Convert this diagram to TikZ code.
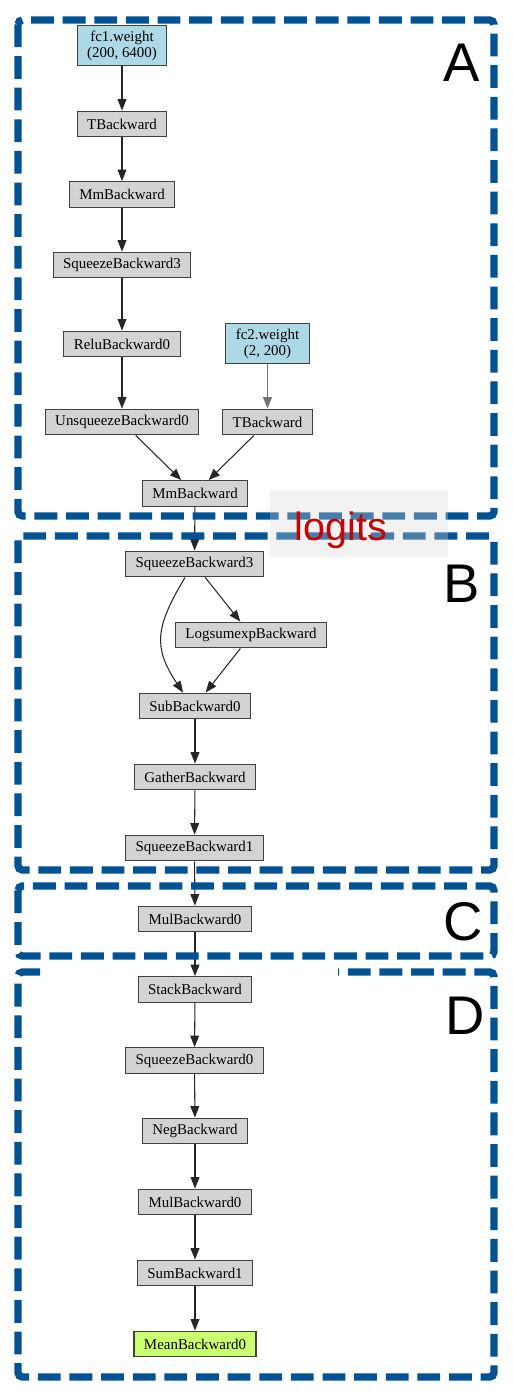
\documentclass[tikz,border=0pt]{standalone}
\usepackage{fontspec}
\setmainfont{Liberation Serif}
\newfontfamily\labelfont{Liberation Sans}
\usetikzlibrary{arrows.meta}
\pgfdeclarelayer{background}
\pgfdeclarelayer{foreground}
\pgfsetlayers{background,main,foreground}
\definecolor{boxblue}{RGB}{0,82,147}
\definecolor{opgray}{RGB}{211,211,211}
\definecolor{leafblue}{RGB}{173,216,230}
\definecolor{rootgreen}{RGB}{202,255,112}
\definecolor{logitred}{RGB}{200,0,0}
\definecolor{notegray}{RGB}{215,215,215}
\tikzset{
  op/.style={draw=black!75, fill=opgray, line width=0.6pt, inner xsep=5.7pt, inner ysep=0pt,
    minimum height=14.7pt, font=\fontsize{8.5}{9}\selectfont},
  leaf/.style={op, fill=leafblue, align=center, minimum height=23.2pt},
  root/.style={op, fill=rootgreen},
  edge/.style={draw=black!85, line width=0.6pt, -{Triangle[length=6.5pt,width=5pt]}},
  region/.style={draw=boxblue, line width=4.2pt, dash pattern=on 13pt off 5pt, rounded corners=2.5pt},
  regionlabel/.style={anchor=west, inner sep=0pt, font=\labelfont\fontsize{31}{31}\selectfont}
}

\begin{document}
\begin{tikzpicture}[x=0.02cm, y=-0.02cm]
\useasboundingbox (0,0) rectangle (512,1396);
% A
\node[leaf] (fcone) at (122,45.5) {fc1.weight\\(200, 6400)};
\node[op] (tbwone) at (122,124) {TBackward};
\node[op] (mmone) at (122,194.5) {MmBackward};
\node[op] (sqzthree) at (122,265) {SqueezeBackward3};
\node[op] (relu) at (122,344) {ReluBackward0};
\node[leaf] (fctwo) at (267.5,343.5) {fc2.weight\\(2, 200)};
\node[op] (unsqz) at (122,422) {UnsqueezeBackward0};
\node[op] (tbwtwo) at (267.5,422) {TBackward};
\node[op] (mmtwo) at (195,493.5) {MmBackward};
% B
\node[op] (sqzthreeb) at (194.5,564) {SqueezeBackward3};
\node[op] (lse) at (251,635) {LogsumexpBackward};
\node[op] (sub) at (195,706) {SubBackward0};
\node[op] (gather) at (195,777) {GatherBackward};
\node[op] (sqzone) at (194.5,848) {SqueezeBackward1};
% C
\node[op] (mulc) at (195,919) {MulBackward0};
% D
\node[op] (stack) at (195,989.5) {StackBackward};
\node[op] (sqzzero) at (194.5,1060.5) {SqueezeBackward0};
\node[op] (neg) at (195,1131) {NegBackward};
\node[op] (muld) at (195,1202) {MulBackward0};
\node[op] (sum) at (195,1273) {SumBackward1};
\node[root] (mean) at (195,1344) {MeanBackward0};

\begin{pgfonlayer}{background}
\draw[edge] (fcone) -- (tbwone);
\draw[edge] (tbwone) -- (mmone);
\draw[edge] (mmone) -- (sqzthree);
\draw[edge] (sqzthree) -- (relu);
\draw[edge] (relu) -- (unsqz);
\draw[edge, draw=black!55, line width=0.9pt] (fctwo) -- (tbwtwo);
\draw[edge] (unsqz) -- (mmtwo);
\draw[edge] (tbwtwo) -- (mmtwo);
\draw[edge] (mmtwo) -- (sqzthreeb);
\draw[edge] (sqzthreeb) -- (lse);
\draw[edge] ([xshift=-5.4pt]sqzthreeb.south) .. controls +(-30,50) and +(-30,-45) .. ([xshift=-6.8pt]sub.north);
\draw[edge] (lse) -- (sub);
\draw[edge] (sub) -- (gather);
\draw[edge] (gather) -- (sqzone);
\draw[edge] (sqzone) -- (mulc);
\draw[edge] (mulc) -- (stack);
\draw[edge] (stack) -- (sqzzero);
\draw[edge] (sqzzero) -- (neg);
\draw[edge] (neg) -- (muld);
\draw[edge] (muld) -- (sum);
\draw[edge] (sum) -- (mean);
\end{pgfonlayer}

\begin{pgfonlayer}{foreground}
\draw[region] (18,20) rectangle (494,516);
\draw[region] (18,536) rectangle (494,870);
\draw[region] (18,886) rectangle (494,956);
\draw[region] (40,972) -- (18,972) -- (18,1377) -- (494,1377) -- (494,972) -- (338,972);
\node[regionlabel] (labela) at (443,63) {A};
\node[regionlabel] (labelb) at (443,584) {B};
\node[regionlabel] (labelc) at (443,922) {C};
\node[regionlabel] (labeld) at (445,1016) {D};
\fill[notegray, fill opacity=0.33] (270,490) rectangle (448,557);
\node[anchor=base, inner sep=0pt, text=logitred, font=\labelfont\fontsize{22.5}{22.5}\selectfont] (logits) at (341,540.7) {logits};
\end{pgfonlayer}
\end{tikzpicture}
\end{document}
